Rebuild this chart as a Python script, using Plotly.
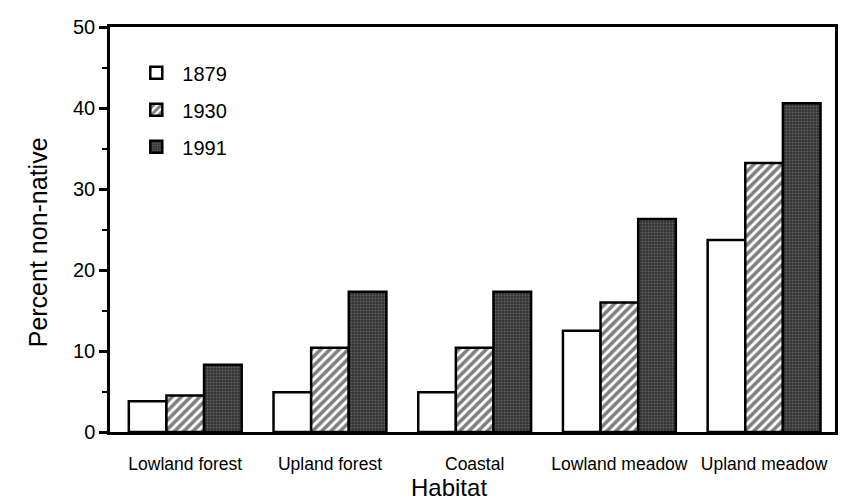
import plotly.graph_objects as go

habitats = ["Lowland forest", "Upland forest", "Coastal", "Lowland meadow", "Upland meadow"]
years = ["1879", "1930", "1991"]
pct_1879 = [3.8, 4.9, 4.9, 12.5, 23.7]
pct_1930 = [4.5, 10.4, 10.4, 16.0, 33.2]
pct_1991 = [8.3, 17.3, 17.3, 26.3, 40.6]
y_ticks = [0, 10, 20, 30, 40, 50]

outline = dict(color="black", width=2.5)

fig = go.Figure()
fig.add_bar(x=habitats, y=pct_1879, name=years[0], legendgroup="a",
            marker=dict(color="white", line=outline))
fig.add_bar(x=habitats, y=pct_1930, name=years[1], legendgroup="b",
            marker=dict(color="white", line=outline,
                        pattern=dict(shape="/", fgcolor="black", bgcolor="white",
                                     size=6.5, solidity=0.55)))
fig.add_bar(x=habitats, y=pct_1991, name=years[2], legendgroup="c",
            marker=dict(color="#383838", line=outline,
                        pattern=dict(shape=".", fgcolor="#8f8f8f", bgcolor="#333333",
                                     size=3, solidity=0.35)))

# body has an 8px margin in the page, so the figure is 8px smaller
fig.update_layout(
    width=860, height=494,
    margin=dict(l=102, r=33, t=19, b=70, autoexpand=False),
    paper_bgcolor="white", plot_bgcolor="white",
    barmode="group", bargap=0.22, bargroupgap=0,
    font=dict(family="Liberation Sans, Arial, sans-serif", color="black"),
    showlegend=True,
    legend=dict(x=0.028, y=0.935, xanchor="left", yanchor="top",
                font=dict(size=20), bgcolor="rgba(0,0,0,0)",
                itemwidth=42, tracegroupgap=8),
    annotations=[
        dict(text="Percent non-native", xref="paper", yref="paper",
             x=-0.099, y=0.469, textangle=-90, showarrow=False,
             xanchor="center", yanchor="middle", font=dict(size=25)),
        dict(text="Habitat", xref="paper", yref="paper",
             x=0.4676, y=-0.138, showarrow=False,
             xanchor="center", yanchor="middle", font=dict(size=24)),
    ],
)
fig.update_xaxes(
    range=[-0.52, 4.49], showline=True, linecolor="black", linewidth=2.5,
    mirror=True, ticks="", showgrid=False, automargin=False,
    tickfont=dict(size=17.5), ticklabelstandoff=14,
)
fig.update_yaxes(
    range=[0, 50], tickvals=y_ticks, showline=True, linecolor="black", linewidth=2.5,
    mirror=True, ticks="outside", ticklen=8, tickwidth=2.5, tickcolor="black",
    minor=dict(dtick=5, ticks="outside", ticklen=5, tickwidth=2, tickcolor="black", showgrid=False),
    showgrid=False, zeroline=False, automargin=False,
    tickfont=dict(size=20),
)

fig.write_html("out.html")
